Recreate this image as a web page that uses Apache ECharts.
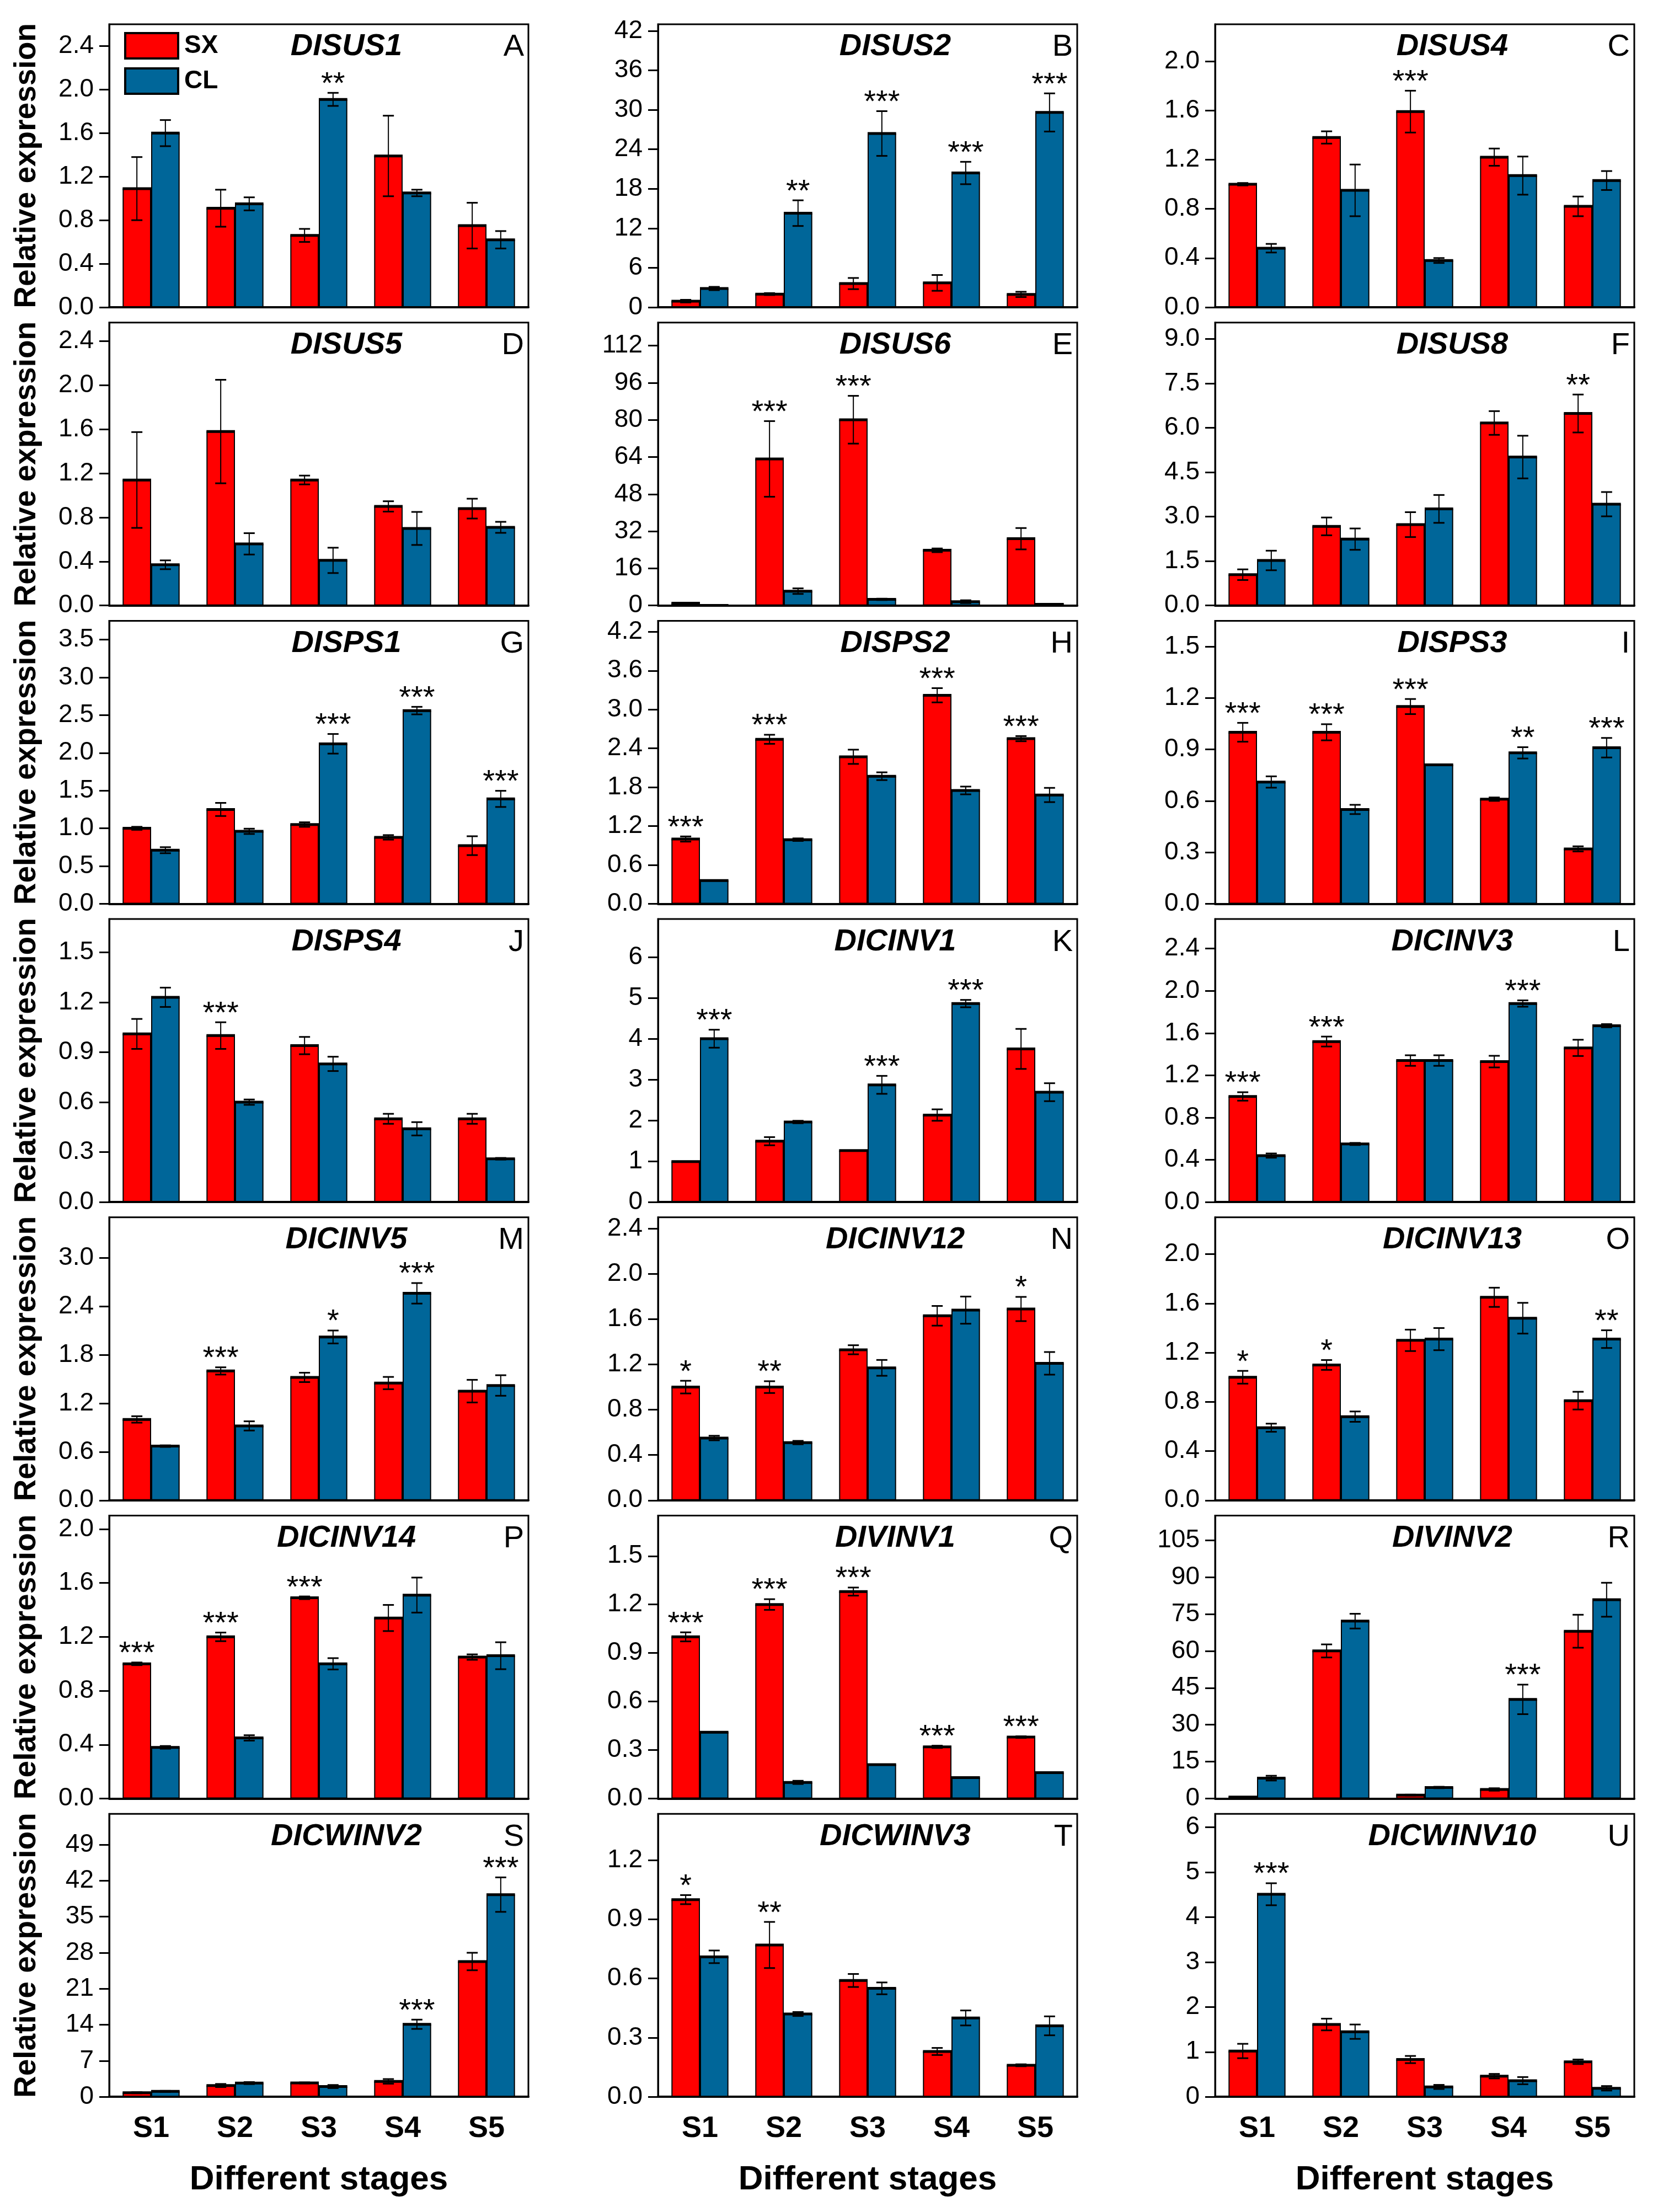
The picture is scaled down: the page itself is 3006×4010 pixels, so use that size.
<!DOCTYPE html>
<html><head><meta charset="utf-8">
<script src="https://cdn.jsdelivr.net/npm/echarts@6/dist/echarts.min.js"></script>
<style>html,body{margin:0;padding:0;background:#fff}#c{width:3006px;height:4010px}</style>
</head><body><div id="c"></div>
<script>
const stages = ['S1','S2','S3','S4','S5'];
const genes = ['DISUS1','DISUS2','DISUS4','DISUS5','DISUS6','DISUS8','DISPS1','DISPS2','DISPS3','DISPS4','DICINV1','DICINV3','DICINV5','DICINV12','DICINV13','DICINV14','DIVINV1','DIVINV2','DICWINV2','DICWINV3','DICWINV10'];
const panelLetters = ['A','B','C','D','E','F','G','H','I','J','K','L','M','N','O','P','Q','R','S','T','U'];
const yMax = [2.6,43,2.3,2.57,122,9.55,3.75,4.37,1.65,1.7,6.93,2.68,3.5,2.5,2.3,2.1,1.75,115,55,1.435,6.3];
const yTickLabels = [
  ['0.0','0.4','0.8','1.2','1.6','2.0','2.4'],
  ['0','6','12','18','24','30','36','42'],
  ['0.0','0.4','0.8','1.2','1.6','2.0'],
  ['0.0','0.4','0.8','1.2','1.6','2.0','2.4'],
  ['0','16','32','48','64','80','96','112'],
  ['0.0','1.5','3.0','4.5','6.0','7.5','9.0'],
  ['0.0','0.5','1.0','1.5','2.0','2.5','3.0','3.5'],
  ['0.0','0.6','1.2','1.8','2.4','3.0','3.6','4.2'],
  ['0.0','0.3','0.6','0.9','1.2','1.5'],
  ['0.0','0.3','0.6','0.9','1.2','1.5'],
  ['0','1','2','3','4','5','6'],
  ['0.0','0.4','0.8','1.2','1.6','2.0','2.4'],
  ['0.0','0.6','1.2','1.8','2.4','3.0'],
  ['0.0','0.4','0.8','1.2','1.6','2.0','2.4'],
  ['0.0','0.4','0.8','1.2','1.6','2.0'],
  ['0.0','0.4','0.8','1.2','1.6','2.0'],
  ['0.0','0.3','0.6','0.9','1.2','1.5'],
  ['0','15','30','45','60','75','90','105'],
  ['0','7','14','21','28','35','42','49'],
  ['0.0','0.3','0.6','0.9','1.2'],
  ['0','1','2','3','4','5','6']
];
const sxMean = [
  [1.09,0.91,0.66,1.39,0.75],
  [0.93,2.0,3.6,3.7,1.95],
  [1.0,1.38,1.59,1.22,0.82],
  [1.14,1.58,1.14,0.90,0.88],
  [1.0,63.2,80.1,23.8,28.8],
  [1.04,2.67,2.73,6.16,6.48],
  [1.0,1.25,1.05,0.88,0.77],
  [1.0,2.54,2.27,3.22,2.55],
  [1.0,1.0,1.15,0.61,0.32],
  [1.01,1.0,0.94,0.50,0.50],
  [0.99,1.49,1.26,2.13,3.75],
  [1.0,1.52,1.34,1.33,1.46],
  [1.0,1.6,1.52,1.45,1.35],
  [1.0,1.0,1.33,1.63,1.69],
  [1.0,1.1,1.3,1.65,0.81],
  [1.0,1.2,1.49,1.34,1.05],
  [1.0,1.2,1.28,0.32,0.38],
  [0.6,60.0,1.4,3.7,68.0],
  [0.8,2.2,2.7,3.0,26.3],
  [1.0,0.77,0.59,0.23,0.16],
  [1.02,1.61,0.83,0.46,0.78]
];
const sxErr = [
  [0.29,0.17,0.06,0.37,0.21],
  [0.2,0.15,0.85,1.2,0.4],
  [0.01,0.05,0.17,0.07,0.08],
  [0.435,0.47,0.04,0.047,0.09],
  [0,16.3,10.3,0.8,4.6],
  [0.18,0.3,0.42,0.4,0.64],
  [0.02,0.087,0.03,0.03,0.125],
  [0.04,0.07,0.11,0.11,0.04],
  [0.055,0.047,0.044,0.01,0.015],
  [0.09,0.08,0.052,0.03,0.03],
  [0,0.1,0,0.14,0.49],
  [0.04,0.047,0.05,0.055,0.077],
  [0.04,0.045,0.058,0.076,0.14],
  [0.056,0.052,0.04,0.087,0.107],
  [0.052,0.04,0.087,0.078,0.072],
  [0.01,0.032,0.01,0.097,0.02],
  [0.028,0.033,0.025,0.007,0.005],
  [0,2.65,0.2,0.5,6.7],
  [0.1,0.3,0.1,0.45,1.7],
  [0.023,0.117,0.033,0.018,0.005],
  [0.16,0.13,0.08,0.05,0.05]
];
const clMean = [
  [1.60,0.95,1.91,1.05,0.62],
  [2.85,14.3,26.4,20.4,29.6],
  [0.48,0.95,0.38,1.07,1.03],
  [0.37,0.56,0.41,0.70,0.71],
  [0.05,6.2,2.66,1.66,0.5],
  [1.52,2.24,3.26,5.01,3.42],
  [0.71,0.96,2.12,2.56,1.39],
  [0.36,0.99,1.97,1.75,1.68],
  [0.71,0.55,0.81,0.88,0.91],
  [1.23,0.60,0.83,0.44,0.26],
  [4.0,1.96,2.87,4.86,2.69],
  [0.44,0.55,1.34,1.88,1.67],
  [0.67,0.92,2.02,2.56,1.42],
  [0.55,0.51,1.17,1.68,1.21],
  [0.59,0.68,1.31,1.48,1.31],
  [0.38,0.45,1.0,1.51,1.06],
  [0.41,0.1,0.21,0.13,0.16],
  [8.3,72.1,4.5,40.3,80.8],
  [1.06,2.67,2.0,14.1,39.3],
  [0.71,0.42,0.55,0.40,0.36],
  [4.51,1.45,0.22,0.36,0.19]
];
const clErr = [
  [0.12,0.06,0.06,0.03,0.08],
  [0.25,1.95,3.4,1.7,2.9],
  [0.035,0.21,0.02,0.155,0.077],
  [0.04,0.097,0.115,0.15,0.05],
  [0,1.2,0.3,0.6,0],
  [0.33,0.36,0.47,0.72,0.41],
  [0.04,0.035,0.13,0.05,0.107],
  [0,0.02,0.06,0.06,0.11],
  [0.033,0.027,0,0.033,0.057],
  [0.058,0.016,0.043,0.04,0.005],
  [0.22,0.03,0.22,0.09,0.22],
  [0.02,0.01,0.05,0.03,0.015],
  [0.01,0.057,0.08,0.127,0.127],
  [0.02,0.015,0.07,0.12,0.1],
  [0.033,0.042,0.09,0.125,0.072],
  [0.01,0.02,0.042,0.13,0.1],
  [0,0.01,0,0,0],
  [0.97,3.0,0.3,6.0,6.9],
  [0.1,0.2,0.3,0.9,3.35],
  [0.032,0.01,0.03,0.038,0.048],
  [0.245,0.16,0.046,0.08,0.05]
];
const sxStars = [
  ['','','','',''],['','','','',''],['','','***','',''],
  ['','','','',''],['','***','***','',''],['','','','','**'],
  ['','','','',''],['***','***','','***','***'],['***','***','***','',''],
  ['','***','','',''],['','','','',''],['***','***','','',''],
  ['','***','','',''],['*','**','','','*'],['*','*','','',''],
  ['***','***','***','',''],['***','***','***','***','***'],['','','','',''],
  ['','','','',''],['*','**','','',''],['','','','','']
];
const clStars = [
  ['','','**','',''],['','**','***','***','***'],['','','','',''],
  ['','','','',''],['','','','',''],['','','','',''],
  ['','','***','***','***'],['','','','',''],['','','','**','***'],
  ['','','','',''],['***','','***','***',''],['','','','***',''],
  ['','','*','***',''],['','','','',''],['','','','','**'],
  ['','','','',''],['','','','',''],['','','','***',''],
  ['','','','***','***'],['','','','',''],['***','','','','']
];

const FONT = '"Liberation Sans", Arial, Helvetica, sans-serif';
const RED = '#FF0000', BLUE = '#006699';
const colLeft = [198, 1193, 2203];
const plotW = 760, plotH = 513, rowTop0 = 44, rowPitch = 540.7;

const chart = echarts.init(document.getElementById('c'), null, {renderer: 'canvas', width: 3006, height: 4010, devicePixelRatio: 1});

const grid = [], xAxis = [], yAxis = [], series = [], title = [];
genes.forEach((g, p) => {
  const row = Math.floor(p / 3), col = p % 3;
  const top = rowTop0 + row * rowPitch, left = colLeft[col];
  grid.push({left: left, top: top, width: plotW, height: plotH, show: true, borderColor: '#000', borderWidth: 3, backgroundColor: 'transparent'});
  const isBottom = row === 6;
  xAxis.push({
    gridIndex: p, type: 'category', data: stages,
    axisLine: {show: true, lineStyle: {color: '#000', width: 4}},
    axisTick: {show: false},
    axisLabel: {show: isBottom, fontSize: 54, fontWeight: 'bold', fontFamily: FONT, color: '#000', margin: 31},
    name: isBottom ? 'Different stages' : '',
    nameLocation: 'middle', nameGap: 120,
    nameTextStyle: {fontSize: 62, fontWeight: 'bold', fontFamily: FONT, color: '#000'}
  });
  const labels = yTickLabels[p];
  const tickVals = labels.map(Number);
  const dec = (labels[1].split('.')[1] || '').length;
  yAxis.push({
    gridIndex: p, type: 'value', min: 0, max: yMax[p],
    axisLine: {show: true, lineStyle: {color: '#000', width: 3}},
    axisTick: {show: true, inside: false, length: 18, lineStyle: {color: '#000', width: 3}, customValues: tickVals},
    axisLabel: {customValues: tickVals, formatter: v => Number(v).toFixed(dec), fontSize: 46, fontFamily: FONT, color: '#000', margin: 28},
    splitLine: {show: false},
    name: col === 0 ? 'Relative expression' : '',
    nameLocation: 'middle', nameGap: 122, nameRotate: 90,
    nameTextStyle: {fontSize: 55, fontWeight: 'bold', fontFamily: FONT, color: '#000'}
  });
  series.push({
    type: 'bar', name: 'SX', xAxisIndex: p, yAxisIndex: p, data: sxMean[p],
    barGap: '0%', barCategoryGap: '32%',
    itemStyle: {color: RED, borderColor: '#000', borderWidth: 2}, silent: true
  });
  series.push({
    type: 'bar', name: 'CL', xAxisIndex: p, yAxisIndex: p, data: clMean[p],
    barGap: '0%', barCategoryGap: '32%',
    itemStyle: {color: BLUE, borderColor: '#000', borderWidth: 2}, silent: true
  });
  series.push({
    type: 'custom', xAxisIndex: p, yAxisIndex: p, z: 10, clip: false, silent: true,
    data: stages.map((s, i) => [i, sxMean[p][i], sxErr[p][i], clMean[p][i], clErr[p][i]]),
    renderItem: (params, api) => {
      const i = api.value(0);
      const band = api.size([1, 0])[0];
      const cx = api.coord([i, 0])[0];
      const bw = band * 0.34;
      const children = [];
      const items = [[api.value(1), api.value(2), -1, sxStars[p][i]], [api.value(3), api.value(4), 1, clStars[p][i]]];
      items.forEach(([m, e, sgn, star]) => {
        const x = cx + sgn * bw / 2;
        const yTop = api.coord([i, m])[1];
        children.push({type: 'line', shape: {x1: x - bw / 2, y1: yTop, x2: x + bw / 2, y2: yTop}, style: {stroke: '#000', lineWidth: 5}});
        let yHi = yTop;
        if (e > 0) {
          yHi = api.coord([i, m + e])[1];
          const yLo = api.coord([i, Math.max(0, m - e)])[1];
          children.push({type: 'line', shape: {x1: x, y1: yHi, x2: x, y2: yLo}, style: {stroke: '#000', lineWidth: 2}});
          children.push({type: 'line', shape: {x1: x - 10, y1: yHi, x2: x + 10, y2: yHi}, style: {stroke: '#000', lineWidth: 3}});
          children.push({type: 'line', shape: {x1: x - 10, y1: yLo, x2: x + 10, y2: yLo}, style: {stroke: '#000', lineWidth: 3}});
        }
        if (star) {
          children.push({type: 'text', style: {text: star, x: x, y: yHi + 13, align: 'center', verticalAlign: 'bottom', fontSize: 56, fontFamily: FONT, fill: '#000'}});
        }
      });
      return {type: 'group', children: children};
    }
  });
  title.push({
    text: g, left: left + 430, top: top + 13, textAlign: 'center', padding: 0,
    textStyle: {fontSize: 56, fontWeight: 'bold', fontStyle: 'italic', fontFamily: FONT, color: '#000'}
  });
  title.push({
    text: panelLetters[p], left: left + plotW - 8, top: top + 14, textAlign: 'right', padding: 0,
    textStyle: {fontSize: 56, fontWeight: 'normal', fontFamily: FONT, color: '#000'}
  });
});

chart.setOption({
  backgroundColor: '#fff',
  animation: false,
  title: title,
  legend: {
    left: 225, top: 58, orient: 'vertical', padding: 0,
    itemWidth: 96, itemHeight: 46, itemGap: 14, icon: 'rect', selectedMode: false,
    data: ['SX', 'CL'],
    itemStyle: {borderColor: '#000', borderWidth: 4},
    textStyle: {fontSize: 46, fontWeight: 'bold', fontFamily: FONT, color: '#000', padding: [0, 0, 0, 6]}
  },
  grid: grid, xAxis: xAxis, yAxis: yAxis, series: series
});
</script></body></html>
